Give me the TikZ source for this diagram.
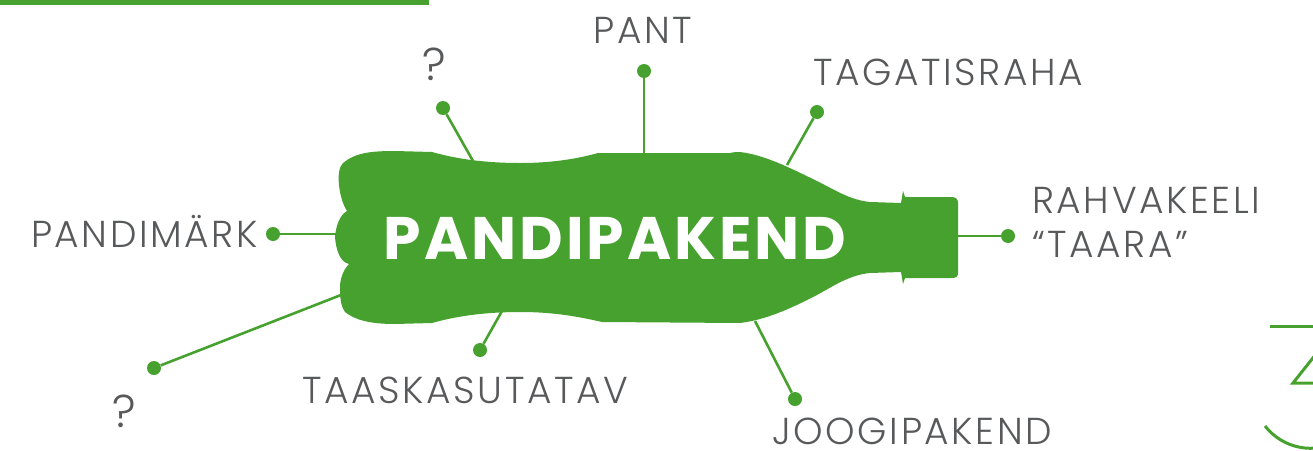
\documentclass[tikz,border=0pt]{standalone}
\usepackage{fontspec}
\setmainfont{Poppins}[UprightFont={* Light}, BoldFont={* Bold}]
\newfontfamily\widefont{Poppins}[UprightFont={* Light}, LetterSpace=7]
\newfontfamily\titlefont{Poppins}[UprightFont={* Bold}, LetterSpace=5]
\usetikzlibrary{calc}

\definecolor{pgreen}{RGB}{70,161,46}
\definecolor{pgray}{RGB}{88,89,91}

\tikzset{
  dot/.style={circle, fill=pgreen, inner sep=0pt, minimum size=14pt},
  spoke/.style={pgreen, line width=2.6pt},
  word/.style={text=pgray, font=\widefont\fontsize{37.5}{44}\selectfont, inner sep=0pt},
  query/.style={word, font=\widefont\fontsize{46}{46}\selectfont},
}

\begin{document}
\begin{tikzpicture}[x=1pt, y=-1pt]
\useasboundingbox (0,0) rectangle (1313,450);
\path[clip] (0,0) rectangle (1313,450);

% bar at the top
\fill[pgreen] (0,0) rectangle (429,4.5);

% bottle
\fill[pgreen] (343,163) .. controls (355,153) and (370,151) .. (395,151) -- (432,152)
  .. controls (460,160) and (490,163) .. (520,163) .. controls (555,163) and (580,158) .. (598,153)
  -- (730,153) .. controls (734,152) and (737,152) .. (740,152)
  .. controls (765,155) and (790,168) .. (817,181) .. controls (835,190) and (850,200) .. (870,202)
  -- (901,203) -- (903,191) -- (905,197) -- (951,197)
  .. controls (956,197) and (958,199) .. (958,203) -- (958,273)
  .. controls (958,277) and (956,278) .. (951,278) -- (905,278) -- (903,284) -- (901,272)
  -- (870,273) .. controls (850,275) and (835,285) .. (817,295)
  .. controls (790,309) and (765,320) .. (740,323) -- (602,322)
  .. controls (580,317) and (555,312) .. (520,312) .. controls (490,312) and (460,315) .. (432,323)
  -- (395,324) .. controls (370,324) and (355,320) .. (345,312)
  .. controls (340,305) and (340,295) .. (340,285) .. controls (341,275) and (345,268) .. (349,264)
  .. controls (340,262) and (336,250) .. (335,237) .. controls (336,225) and (340,215) .. (347,211)
  .. controls (343,205) and (340,195) .. (339,185) .. controls (338,175) and (339,167) .. (343,163) -- cycle;
\node[text=white, inner sep=0pt, font=\titlefont\fontsize{60}{60}\selectfont] (title) at (615,238.5) {PANDIPAKEND};

% spokes: name / dot / point on the bottle
\foreach \n/\dx/\dy/\bx/\by in {pant/644/71/644/154, tagatis/817/112/787/165, rahva/1008/236/957/236,
    joogi/795/399/755/321, taaska/480/350/502/311, qbot/154/368/341/295,
    mark/273/234/337/234, qtop/443/108/473/161} {
  \coordinate (\n-in) at (\bx,\by);
  \node[dot] (\n) at (\dx,\dy) {};
  \draw[spoke] (\n) -- (\n-in);
}

\node[word, anchor=base] (pant-txt) at (643,43) {PANT};
\node[word, anchor=base west] (tagatis-txt) at (813,85) {TAGATISRAHA};
\node[word, anchor=base west, align=left] (rahva-txt) at (1032,257) {RAHVAKEELI\\“TAARA”};
\node[word, anchor=base west] (joogi-txt) at (772,444) {JOOGIPAKEND};
\node[word, anchor=base west] (taaska-txt) at (302,403) {TAASKASUTATAV};
\node[query, anchor=base] (qbot-txt) at (124,427) {?};
\node[word, anchor=base east] (mark-txt) at (258,247) {PANDIMÄRK};
\node[query, anchor=base] (qtop-txt) at (434,80) {?};

% piece of a large 3 at the right edge
\draw[pgreen, line width=3pt] (1270,326.5) -- (1320,326.5);
\draw[pgreen, line width=3pt, line join=miter] (1320,349) -- (1293,383) -- (1320,383);
\draw[pgreen, line width=3pt] (1265,426) arc[start angle=142, end angle=60, radius=58];
\end{tikzpicture}
\end{document}
